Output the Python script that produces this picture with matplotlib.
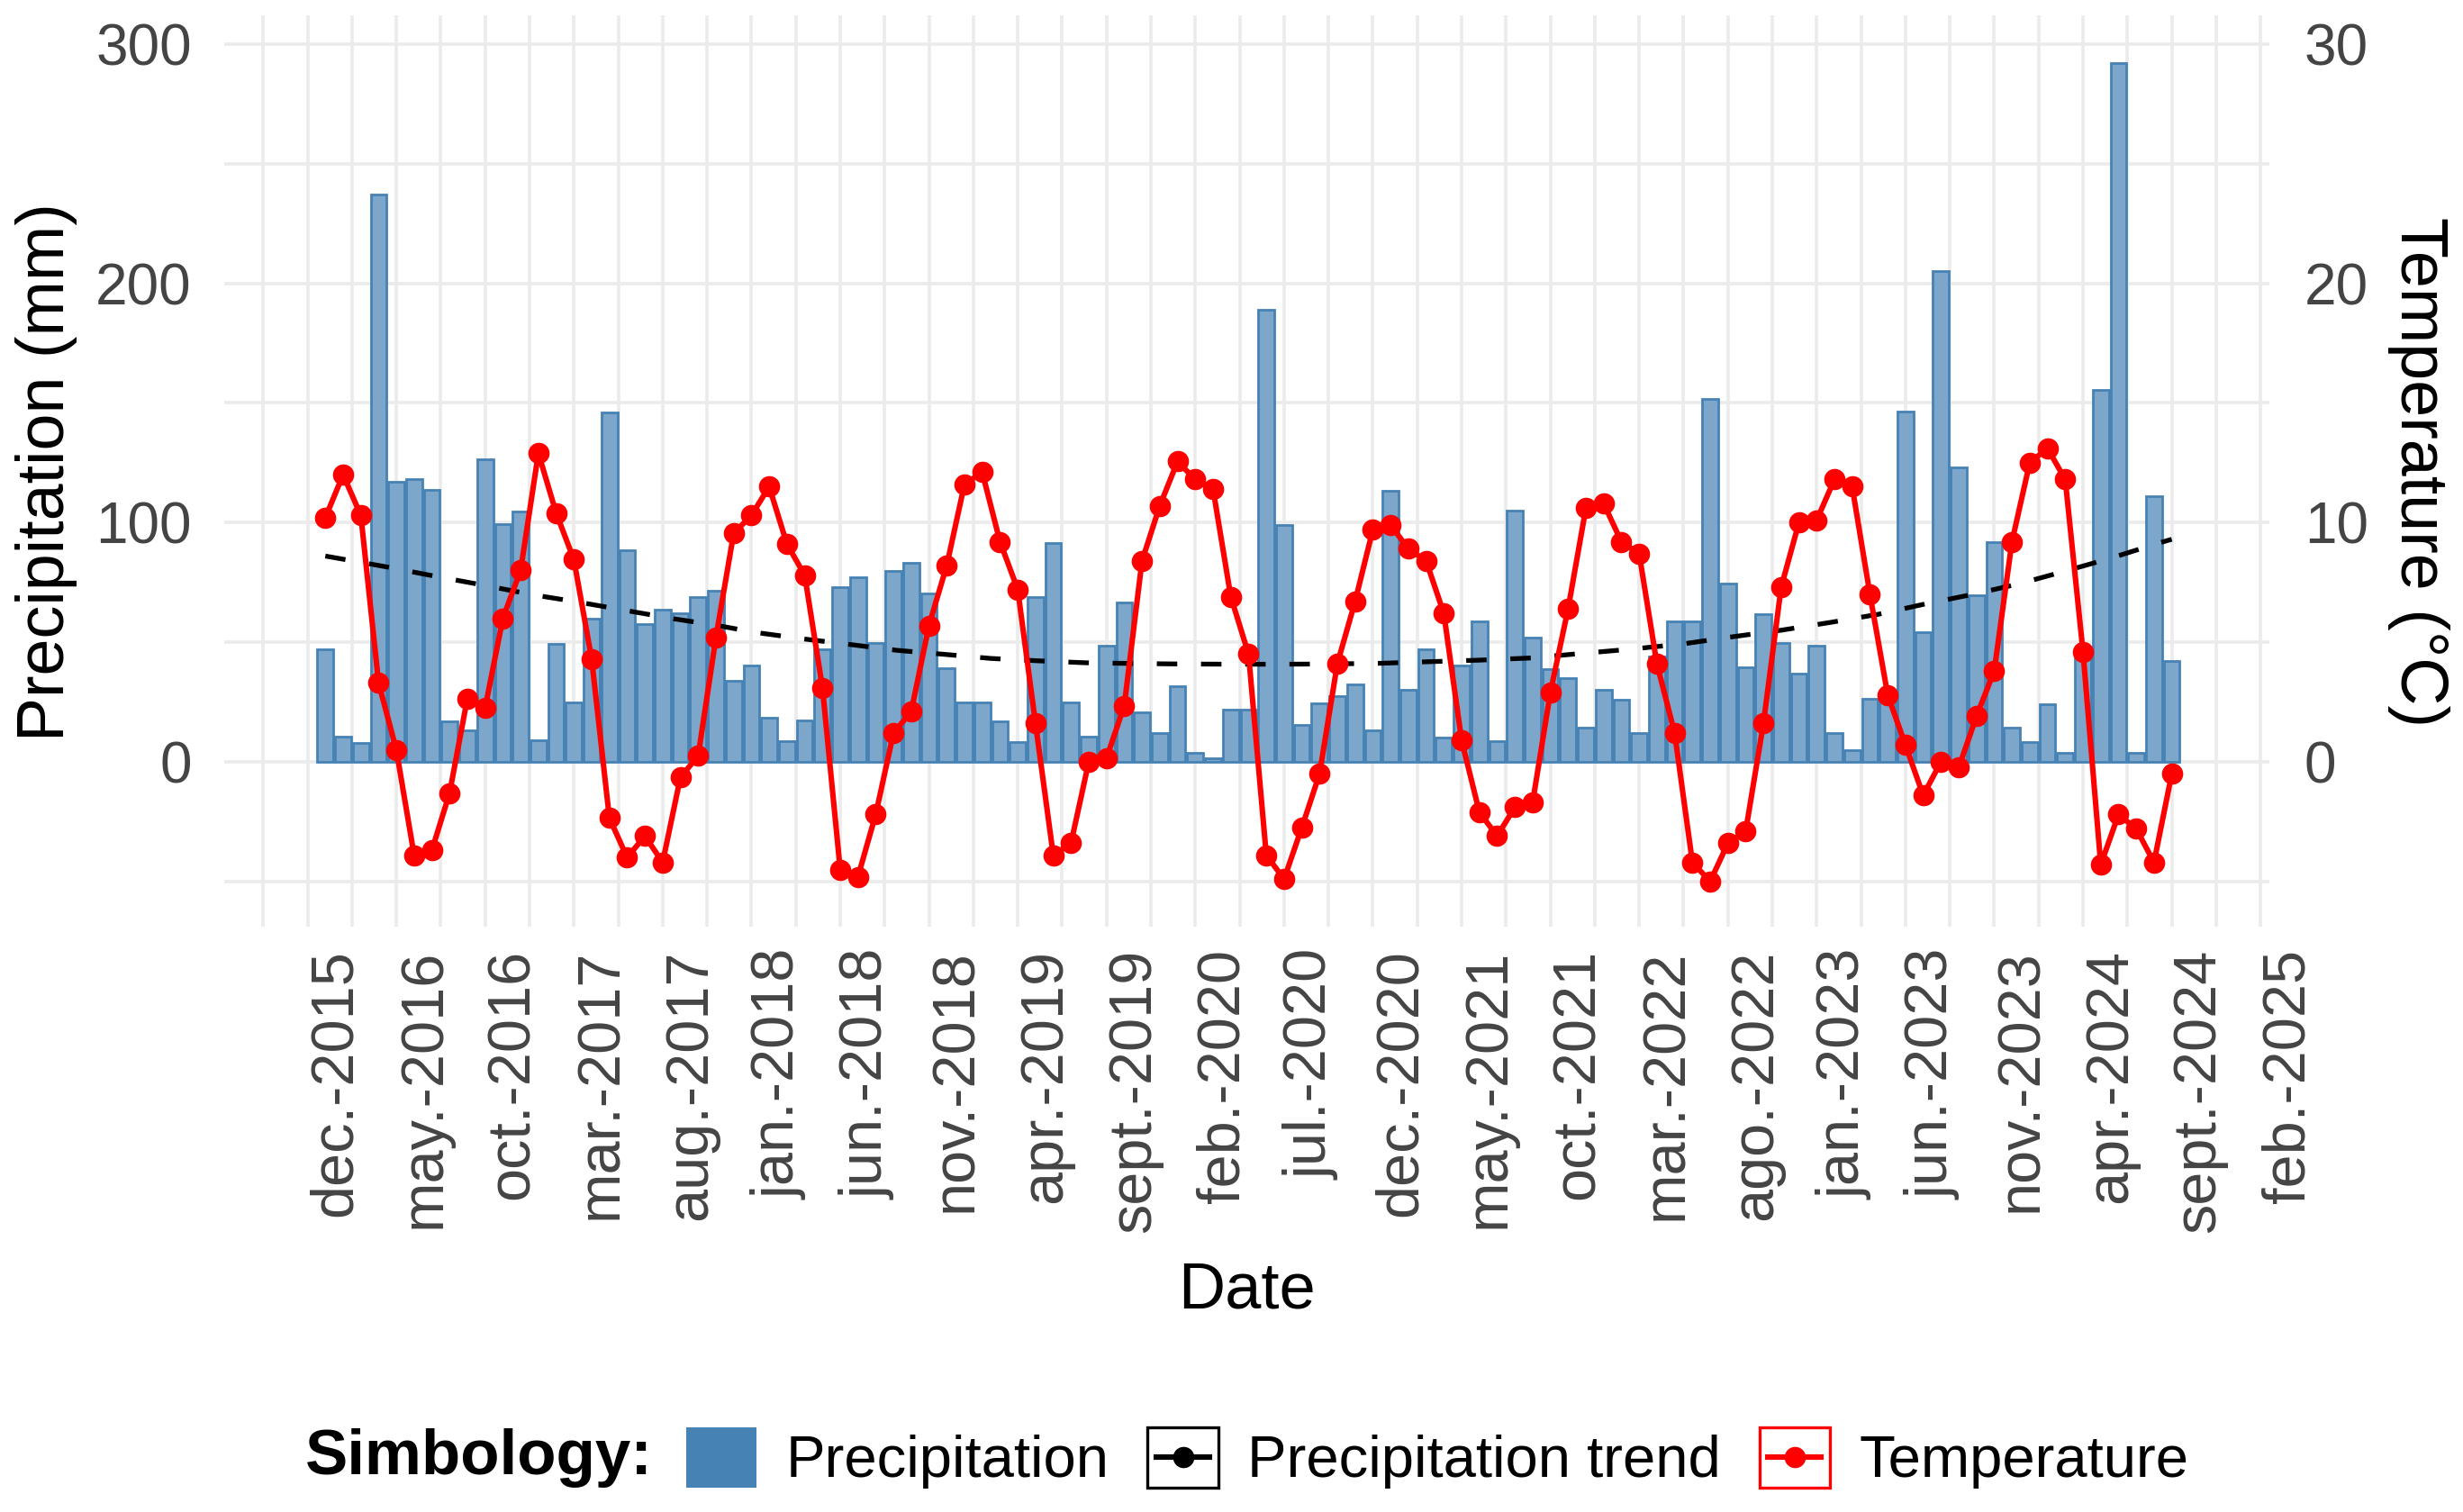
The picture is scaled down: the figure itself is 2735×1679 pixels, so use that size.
import matplotlib
matplotlib.use("Agg")
import matplotlib.pyplot as plt
from matplotlib.patches import Patch, Rectangle
from matplotlib.lines import Line2D
from matplotlib.legend_handler import HandlerBase

plt.rcParams['font.family'] = ['Liberation Sans', 'DejaVu Sans']

# month index: 0 = dec-2015, bars start at 1 (jan-2016) and end at 105 (sept-2024)
months = list(range(1, 106))

precip = [47, 10.6, 7.8, 237, 117, 118, 113.5, 17, 13, 126.5,
          99.4, 104.5, 9, 49.4, 25, 60, 146, 88.6, 57.6, 63.7,
          62, 68.8, 71.4, 34, 40.2, 18.4, 8.8, 17.3, 47, 73,
          77, 49.6, 79.6, 83.3, 70.4, 39.2, 25, 25, 17, 8.2,
          69, 91.4, 25, 10.6, 48.6, 66.7, 20.8, 12.2, 31.6, 3.7,
          1.6, 22, 22, 188.8, 99, 15.3, 24.5, 27.6, 32.2, 13.3,
          113.3, 30, 47, 10.2, 40.4, 58.6, 8.8, 105.1, 52, 38.8,
          35.1, 14.3, 30, 26.1, 12.1, 44, 58.8, 58.8, 151.7, 74.4,
          39.6, 61.7, 49.7, 36.7, 48.7, 12, 4.8, 26.4, 26.4, 146.4,
          54, 205, 122.9, 69.6, 91.9, 14.4, 8.4, 24, 3.6, 44.5,
          155.3, 292, 3.6, 111, 42]

temperature = [10.2, 12.0, 10.3, 3.3, 0.5, -3.9, -3.7, -1.3, 2.65, 2.25,
               6.0, 8.0, 12.9, 10.4, 8.45, 4.3, -2.35, -4.0, -3.1, -4.2,
               -0.65, 0.25, 5.2, 9.55, 10.3, 11.5, 9.1, 7.8, 3.1, -4.5,
               -4.8, -2.2, 1.2, 2.1, 5.7, 8.2, 11.6, 12.1, 9.2, 7.2,
               1.6, -3.9, -3.4, 0.0, 0.15, 2.35, 8.4, 10.7, 12.55, 11.8,
               11.4, 6.9, 4.5, -3.9, -4.9, -2.75, -0.5, 4.1, 6.7, 9.7,
               9.9, 8.9, 8.4, 6.2, 0.9, -2.1, -3.1, -1.9, -1.7, 2.9,
               6.4, 10.6, 10.8, 9.2, 8.7, 4.1, 1.2, -4.2, -5.0, -3.4,
               -2.9, 1.6, 7.3, 10.0, 10.1, 11.8, 11.5, 7.0, 2.8, 0.7,
               -1.4, 0.0, -0.24, 1.9, 3.8, 9.2, 12.5, 13.1, 11.8, 4.6,
               -4.3, -2.2, -2.8, -4.2, -0.5]

# precipitation trend
trend_months = [1, 4.5, 7.3, 10, 12.7, 15.3, 17.9, 20.6, 23, 25.2,
                27.9, 30.6, 33.2, 35.9, 38.5, 41.2, 43.8, 46.5, 49, 52,
                55, 57.6, 60.5, 63.4, 66, 68.9, 71.6, 74.4, 77.4, 80,
                83, 85.8, 88.5, 91, 93.8, 96.4, 99, 101.6, 104.3, 105]
trend_vals = [86, 81.4, 77.4, 73.7, 69.8, 66.7, 63.3, 59.8, 57.1, 54.1,
              51.4, 49, 46.6, 44.9, 43.2, 42.2, 41.4, 41.1, 40.9, 40.8,
              40.8, 40.9, 41.2, 41.9, 42.5, 43.4, 45.2, 47, 49.2, 52,
              55, 58.3, 61.7, 65.8, 70, 74.4, 79.7, 85.2, 91.5, 93]

tick_labels = ['dec.-2015', 'may.-2016', 'oct.-2016', 'mar.-2017', 'aug.-2017',
               'jan.-2018', 'jun.-2018', 'nov.-2018', 'apr.-2019', 'sept.-2019',
               'feb.-2020', 'jul.-2020', 'dec.-2020', 'may.-2021', 'oct.-2021',
               'mar.-2022', 'ago.-2022', 'jan.-2023', 'jun.-2023', 'nov.-2023',
               'apr.-2024', 'sept.-2024', 'feb.-2025']

bar_fill = '#7da7ca'
bar_edge = '#4682b4'
grid_col = '#ebebeb'
tick_col = '#444444'

fig = plt.figure(figsize=(13.675, 8.395), dpi=200)
ax = fig.add_axes([0.0910, 0.3871, 0.8304, 0.6025])

ax.bar(months, precip, width=0.9, color=bar_fill, edgecolor=bar_edge, linewidth=1.0, zorder=2)
ax.plot(trend_months, trend_vals, color='black', lw=1.9, ls=(0, (4.3, 5.0)), zorder=3)

ylo, yhi = -68.9, 311.8
ax.set_ylim(ylo, yhi)
ax.set_xlim(-4.7, 110.5)

major_x = [5 * i for i in range(len(tick_labels))]
minor_x = [-2.5 + 5 * i for i in range(len(tick_labels))]
ax.set_xticks(major_x)
ax.set_xticklabels(tick_labels, rotation=90, ha='left', va='top')
ax.set_xticks(minor_x, minor=True)
ax.set_yticks([0, 100, 200, 300])
ax.set_yticks([-50, 50, 150, 250], minor=True)

ax.grid(which='both', color=grid_col, lw=1.3)
ax.set_axisbelow(True)
ax.tick_params(axis='both', which='both', length=0)
ax.tick_params(axis='x', pad=9, labelsize=24, labelcolor=tick_col)
ax.tick_params(axis='y', pad=13, labelsize=23, labelcolor=tick_col)
for s in ax.spines.values():
    s.set_visible(False)

ax2 = ax.twinx()
ax2.plot(months, temperature, color='red', lw=2.2, marker='o', ms=7.5, zorder=4)
ax2.set_ylim(ylo / 10, yhi / 10)
ax2.set_yticks([0, 10, 20, 30])
ax2.tick_params(axis='y', length=0, pad=14, labelsize=23, labelcolor=tick_col)
for s in ax2.spines.values():
    s.set_visible(False)

fig.text(0.019, 0.688, 'Precipitation (mm)', rotation=90, ha='center', va='center', fontsize=26.5)
fig.text(0.982, 0.688, 'Temperature (°C)', rotation=270, ha='center', va='center', fontsize=26.5)
fig.text(0.5062, 0.146, 'Date', ha='center', va='center', fontsize=26)


class BoxedLine(HandlerBase):
    def __init__(self, color):
        super().__init__()
        self.color = color

    def create_artists(self, legend, orig_handle, xdescent, ydescent, width, height, fontsize, trans):
        x0, y0 = -xdescent, -ydescent
        box = Rectangle((x0, y0), width, height, fill=False, edgecolor=self.color, lw=1.2, transform=trans)
        ym = y0 + height / 2
        line = Line2D([x0 + width * 0.12, x0 + width * 0.88], [ym, ym], color=self.color, lw=2.2, transform=trans)
        dot = Line2D([x0 + width / 2], [ym], marker='o', ms=7.5, color=self.color, transform=trans)
        return [box, line, dot]


h_prec = Patch(facecolor=bar_edge, edgecolor='none')
h_trend = Line2D([], [], color='black')
h_temp = Line2D([], [], color='red')

fig.text(0.124, 0.0357, 'Simbology:', fontsize=25.5, fontweight='bold', ha='left', va='center')
fig.legend([h_prec, h_trend, h_temp], ['Precipitation', 'Precipitation trend', 'Temperature'],
           handler_map={h_trend: BoxedLine('black'), h_temp: BoxedLine('red')},
           loc='center left', bbox_to_anchor=(0.2786, 0.0357), ncol=3, frameon=False,
           fontsize=23.5, handlelength=1.2, handleheight=1.2, handletextpad=0.5,
           columnspacing=0.65, borderpad=0, borderaxespad=0)

fig.savefig('out.png', dpi=200)
